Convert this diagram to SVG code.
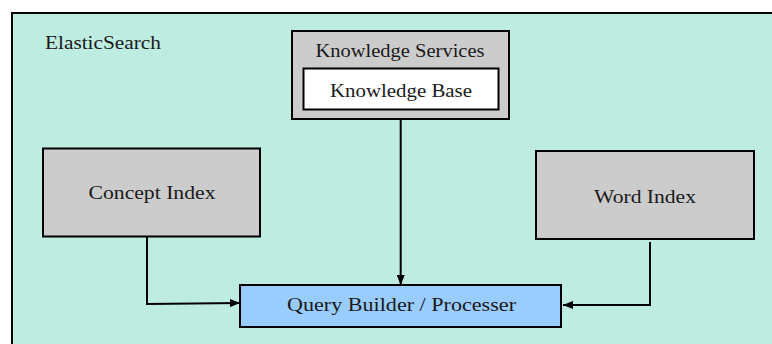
<svg xmlns="http://www.w3.org/2000/svg" width="772" height="344" viewBox="0 0 772 344">
  <style>
    text { font-size: 19px; fill: #1a1a1a; }
    .box { stroke: #000; stroke-width: 2; }
    .grey { fill: #cccccc; }
    .edge { fill: none; stroke: #000; stroke-width: 2; }
  </style>
  <defs>
    <marker id="tip" viewBox="0 0 10 8" refX="10" refY="4" markerWidth="10" markerHeight="8" markerUnits="userSpaceOnUse" orient="auto">
      <path d="M0,0 L10,4 L0,8 Z" fill="#000"/>
    </marker>
  </defs>

  <rect width="772" height="344" fill="#ffffff"/>

  <g font-family="Liberation Serif, serif">
    <!-- outer container -->
    <g id="elasticsearch">
      <rect x="12" y="13" width="770" height="345" fill="#beece1" class="box"/>
      <text x="45" y="48.5" textLength="116" lengthAdjust="spacingAndGlyphs">ElasticSearch</text>
    </g>

    <g id="knowledge-services">
      <rect x="292" y="31" width="217" height="88" class="box grey"/>
      <text x="400" y="56.5" text-anchor="middle" textLength="169" lengthAdjust="spacingAndGlyphs">Knowledge Services</text>
    </g>

    <g id="knowledge-base">
      <rect x="303.5" y="68.5" width="195" height="41" fill="#ffffff" class="box"/>
      <text x="401" y="97" text-anchor="middle" textLength="142" lengthAdjust="spacingAndGlyphs">Knowledge Base</text>
    </g>

    <g id="concept-index">
      <rect x="43" y="148.5" width="217" height="88" class="box grey"/>
      <text x="152" y="199" text-anchor="middle" textLength="127" lengthAdjust="spacingAndGlyphs">Concept Index</text>
    </g>

    <g id="word-index">
      <rect x="536" y="151" width="218" height="88" class="box grey"/>
      <text x="645" y="202.5" text-anchor="middle" textLength="102" lengthAdjust="spacingAndGlyphs">Word Index</text>
    </g>

    <g id="query-builder">
      <rect x="240" y="285" width="321" height="42" fill="#99ccff" class="box"/>
      <text x="401.5" y="311" text-anchor="middle" textLength="229" lengthAdjust="spacingAndGlyphs">Query Builder / Processer</text>
    </g>
  </g>

  <!-- connectors -->
  <g id="connectors">
    <path class="edge" d="M400.7,119 V285" marker-end="url(#tip)"/>
    <path class="edge" d="M147,237 V304 L240,303" marker-end="url(#tip)"/>
    <path class="edge" d="M650,242 V305 H563" marker-end="url(#tip)"/>
  </g>
</svg>
